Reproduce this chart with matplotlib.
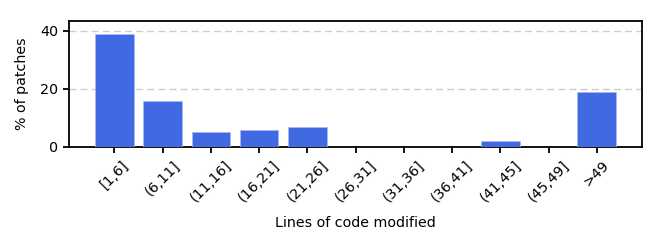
import matplotlib
matplotlib.use("Agg")
import matplotlib.pyplot as plt

categories = ["[1,6]", "(6,11]", "(11,16]", "(16,21]", "(21,26]", "(26,31]",
              "(31,36]", "(36,41]", "(41,45]", "(45,49]", ">49"]
values = [39, 16, 5, 6, 7, 0, 0, 0, 2, 0, 19]

plt.rcParams['font.size'] = 10.3
fig, ax = plt.subplots(figsize=(6.64, 2.45), dpi=100)
fig.subplots_adjust(left=0.104, right=0.967, top=0.914, bottom=0.4)
ax.bar(range(len(categories)), values, width=0.8, color="royalblue",
       edgecolor="#aab8f0", linewidth=0.5, zorder=3)
ax.set_xticks(range(len(categories)))
ax.set_xticklabels(categories, rotation=45)
ax.set_yticks([0, 20, 40])
ax.set_ylim(0, 43.4)
ax.yaxis.grid(True, linestyle=(0, (5, 3)), color="#cccccc", linewidth=1.0, zorder=0)
for s in ax.spines.values():
    s.set_linewidth(1.3)
ax.tick_params(width=1.3, length=4.5)
ax.set_xlabel("Lines of code modified", labelpad=8)
ax.set_ylabel("% of patches", labelpad=8)
fig.savefig("out.png", dpi=100)
